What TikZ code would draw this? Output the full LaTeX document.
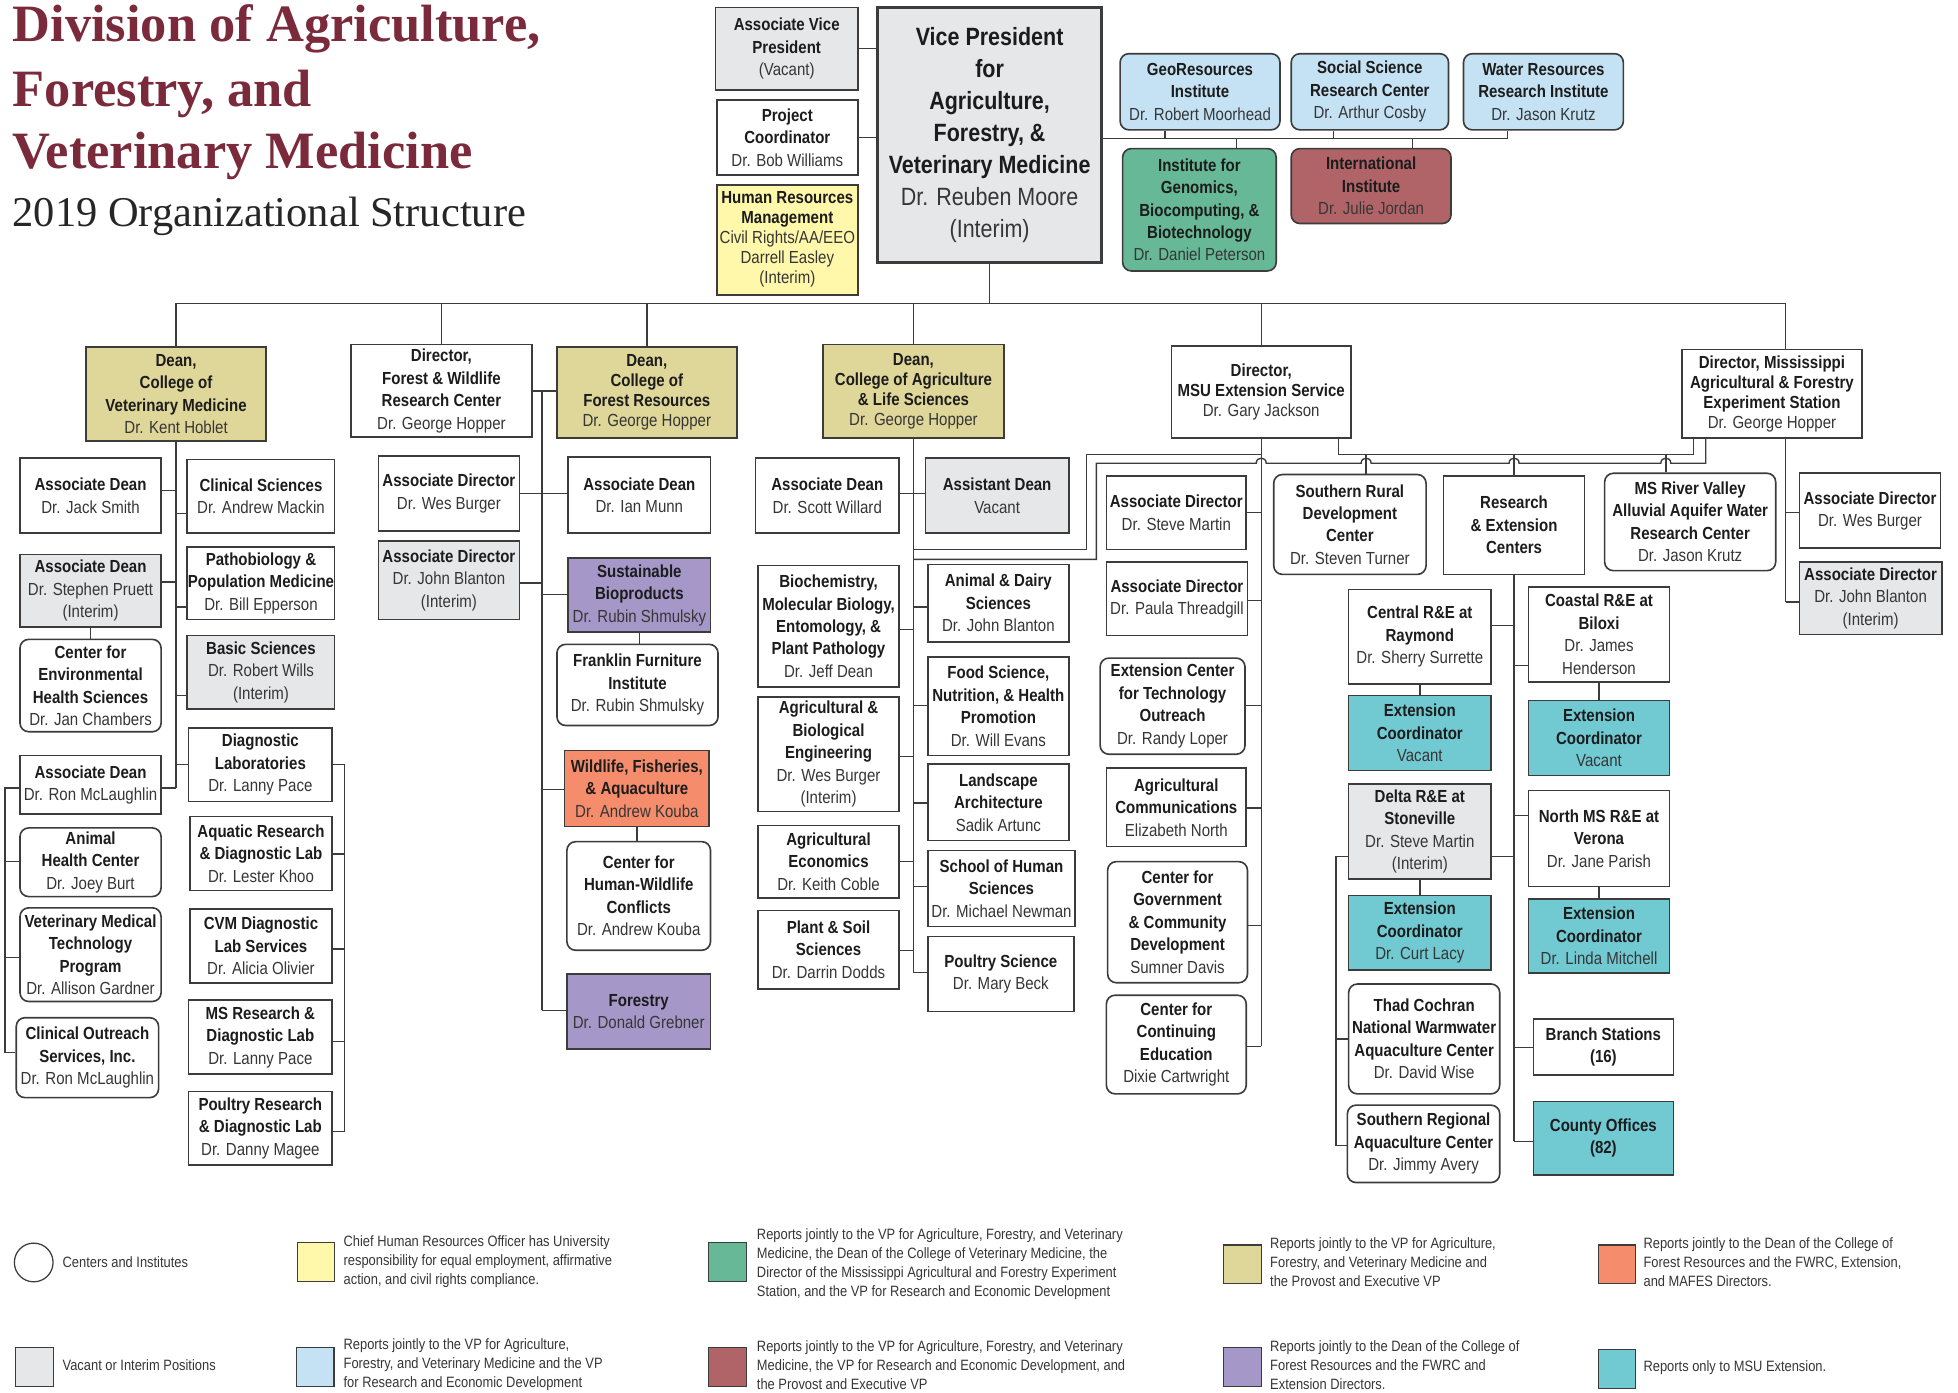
\documentclass[tikz,border=0pt]{standalone}
\usepackage{fontspec}
\setmainfont{Liberation Sans}[FakeStretch=0.86]
\newfontfamily\serifT{Liberation Serif}
\definecolor{cline}{HTML}{3C3C3C}
\definecolor{cname}{HTML}{363636}
\definecolor{chead}{HTML}{1C1C1C}
\definecolor{cgray}{HTML}{E6E7E8}
\definecolor{cyellow}{HTML}{FFF7AA}
\definecolor{cblue}{HTML}{C4E2F4}
\definecolor{cgreen}{HTML}{66B896}
\definecolor{cred}{HTML}{B06468}
\definecolor{colive}{HTML}{DFD79A}
\definecolor{csalmon}{HTML}{F58C6C}
\definecolor{cpurple}{HTML}{A598C8}
\definecolor{cteal}{HTML}{71C9D2}
\definecolor{ctitle}{HTML}{7A2A3B}
\newcommand\hb[1]{\textbf{\color{chead}#1}}
\newcommand\bx[7]{\node[#1, minimum width={#4-#2}, minimum height={#5-#3}] (#6) at ({(#2+#4)/2},{(#3+#5)/2}) {#7};}
\tikzset{
 bx/.style={draw=cline, line width=1.3pt, fill=white, inner sep=0pt, align=center, text=cname, font=\fontsize{14}{18}\selectfont},
 rbx/.style={bx, rounded corners=7pt},
 ls16/.style={font=\fontsize{14}{16}\selectfont},
 ln/.style={draw=cline, line width=1.1pt},
 fgray/.style={fill=cgray}, fyellow/.style={fill=cyellow}, fblue/.style={fill=cblue},
 fgreen/.style={fill=cgreen}, fred/.style={fill=cred}, folive/.style={fill=colive},
 fsalmon/.style={fill=csalmon}, fpurple/.style={fill=cpurple}, fteal/.style={fill=cteal},
 lsq/.style={draw=cline, line width=0.9pt, minimum width=30, minimum height=31, inner sep=0pt},
 lgt/.style={anchor=west, align=left, inner sep=0pt, text=cname, font=\fontsize{12}{15.2}\selectfont},
 ttl/.style={anchor=base west, inner sep=0pt, text=ctitle, font=\serifT\bfseries\fontsize{42}{50}\selectfont}
}
\begin{document}
\begin{tikzpicture}[x=1pt,y=-1pt]
\fill[white] (0,0) rectangle (1568,1115);
\useasboundingbox (0,0) rectangle (1568,1115);

% title
\node[ttl] (t1) at (10,33.4) {Division of Agriculture,};
\node[ttl] (t2) at (10,84.9) {Forestry, and};
\node[ttl] (t3) at (10,134.8) {Veterinary Medicine};
\node[anchor=base west, inner sep=0pt, text=black!85, font=\serifT\fontsize{34}{40}\selectfont] (t4) at (10,181.5) {2019 Organizational Structure};

% top
\bx{bx,fgray}{573}{6}{687}{72}{avp}{\hb{Associate Vice}\\\hb{President}\\(Vacant)}
\bx{bx}{574}{80}{687}{140}{pc}{\hb{Project}\\\hb{Coordinator}\\Dr. Bob Williams}
\bx{bx,fyellow,ls16}{574}{148}{687}{236}{hr}{\hb{Human Resources}\\\hb{Management}\\Civil Rights/AA/EEO\\Darrell Easley\\(Interim)}
\bx{bx,fgray,line width=2.4pt,font=\fontsize{20}{25.7}\selectfont}{703}{6}{882}{210}{vp}{\hb{Vice President}\\\hb{for}\\\hb{Agriculture,}\\\hb{Forestry, \&}\\\hb{Veterinary Medicine}\\Dr. Reuben Moore\\(Interim)}
\bx{rbx,fblue}{897}{43}{1025}{104}{geo}{\hb{GeoResources}\\\hb{Institute}\\Dr. Robert Moorhead}
\bx{rbx,fblue}{1034}{43}{1160}{104}{ssrc}{\hb{Social Science}\\\hb{Research Center}\\Dr. Arthur Cosby}
\bx{rbx,fblue}{1172}{43}{1300}{104}{wri}{\hb{Water Resources}\\\hb{Research Institute}\\Dr. Jason Krutz}
\bx{rbx,fgreen}{899}{119}{1022}{217}{igb}{\hb{Institute for}\\\hb{Genomics,}\\\hb{Biocomputing, \&}\\\hb{Biotechnology}\\Dr. Daniel Peterson}
\bx{rbx,fred}{1034}{119}{1162}{179}{intl}{\hb{International}\\\hb{Institute}\\Dr. Julie Jordan}

% row 2
\bx{bx,folive}{69}{278}{213}{353}{vetd}{\hb{Dean,}\\\hb{College of}\\\hb{Veterinary Medicine}\\Dr. Kent Hoblet}
\bx{bx}{281}{276}{426}{350}{fwrc}{\hb{Director,}\\\hb{Forest \& Wildlife}\\\hb{Research Center}\\Dr. George Hopper}
\bx{bx,folive,ls16}{446}{278}{590}{351}{cfr}{\hb{Dean,}\\\hb{College of}\\\hb{Forest Resources}\\Dr. George Hopper}
\bx{bx,folive,ls16}{659}{276}{804}{351}{cals}{\hb{Dean,}\\\hb{College of Agriculture}\\\hb{\& Life Sciences}\\Dr. George Hopper}
\bx{bx,ls16}{938}{277}{1082}{351}{ext}{\hb{Director,}\\\hb{MSU Extension Service}\\Dr. Gary Jackson}
\bx{bx,ls16}{1347}{280}{1491}{351}{mafes}{\hb{Director, Mississippi}\\\hb{Agricultural \& Forestry}\\\hb{Experiment Station}\\Dr. George Hopper}

% vet column
\bx{bx}{16}{367}{129}{427}{js}{\hb{Associate Dean}\\Dr. Jack Smith}
\bx{bx,fgray}{16}{444}{129}{502}{sp}{\hb{Associate Dean}\\Dr. Stephen Pruett\\(Interim)}
\bx{rbx}{16}{512}{129}{586}{ceh}{\hb{Center for}\\\hb{Environmental}\\\hb{Health Sciences}\\Dr. Jan Chambers}
\bx{bx}{16}{605}{129}{652}{rm}{\hb{Associate Dean}\\Dr. Ron McLaughlin}
\bx{rbx}{16}{663}{129}{718}{ahc}{\hb{Animal}\\\hb{Health Center}\\Dr. Joey Burt}
\bx{rbx}{16}{727}{129}{802}{vmt}{\hb{Veterinary Medical}\\\hb{Technology}\\\hb{Program}\\Dr. Allison Gardner}
\bx{rbx}{13}{815}{127}{879}{cos}{\hb{Clinical Outreach}\\\hb{Services, Inc.}\\Dr. Ron McLaughlin}
\bx{bx}{150}{368}{268}{427}{cs}{\hb{Clinical Sciences}\\Dr. Andrew Mackin}
\bx{bx}{150}{438}{268}{496}{ppm}{\hb{Pathobiology \&}\\\hb{Population Medicine}\\Dr. Bill Epperson}
\bx{bx,fgray}{150}{509}{268}{568}{bs}{\hb{Basic Sciences}\\Dr. Robert Wills\\(Interim)}
\bx{bx}{151}{583}{266}{642}{dl}{\hb{Diagnostic}\\\hb{Laboratories}\\Dr. Lanny Pace}
\bx{bx}{152}{654}{266}{713}{ardl}{\hb{Aquatic Research}\\\hb{\& Diagnostic Lab}\\Dr. Lester Khoo}
\bx{bx}{152}{728}{266}{787}{cvm}{\hb{CVM Diagnostic}\\\hb{Lab Services}\\Dr. Alicia Olivier}
\bx{bx}{151}{801}{266}{860}{msr}{\hb{MS Research \&}\\\hb{Diagnostic Lab}\\Dr. Lanny Pace}
\bx{bx}{151}{874}{266}{933}{prdl}{\hb{Poultry Research}\\\hb{\& Diagnostic Lab}\\Dr. Danny Magee}

% forest columns
\bx{bx}{303}{365}{416}{425}{wb}{\hb{Associate Director}\\Dr. Wes Burger}
\bx{bx,fgray}{303}{433}{416}{496}{jb}{\hb{Associate Director}\\Dr. John Blanton\\(Interim)}
\bx{bx}{455}{366}{569}{427}{im}{\hb{Associate Dean}\\Dr. Ian Munn}
\bx{bx,fpurple}{455}{447}{569}{506}{sbp}{\hb{Sustainable}\\\hb{Bioproducts}\\Dr. Rubin Shmulsky}
\bx{rbx}{446}{516}{575}{581}{ffi}{\hb{Franklin Furniture}\\\hb{Institute}\\Dr. Rubin Shmulsky}
\bx{bx,fsalmon}{452}{601}{568}{662}{wfa}{\hb{Wildlife, Fisheries,}\\\hb{\& Aquaculture}\\Dr. Andrew Kouba}
\bx{rbx}{454}{674}{569}{761}{chw}{\hb{Center for}\\\hb{Human-Wildlife}\\\hb{Conflicts}\\Dr. Andrew Kouba}
\bx{bx,fpurple}{454}{780}{569}{840}{fst}{\hb{Forestry}\\Dr. Donald Grebner}

% CALS columns
\bx{bx}{605}{367}{720}{427}{sw}{\hb{Associate Dean}\\Dr. Scott Willard}
\bx{bx,fgray}{741}{367}{856}{427}{ad}{\hb{Assistant Dean}\\Vacant}
\bx{bx}{607}{453}{720}{550}{bmb}{\hb{Biochemistry,}\\\hb{Molecular Biology,}\\\hb{Entomology, \&}\\\hb{Plant Pathology}\\Dr. Jeff Dean}
\bx{bx}{607}{558}{720}{650}{abe}{\hb{Agricultural \&}\\\hb{Biological}\\\hb{Engineering}\\Dr. Wes Burger\\(Interim)}
\bx{bx}{607}{661}{720}{719}{aec}{\hb{Agricultural}\\\hb{Economics}\\Dr. Keith Coble}
\bx{bx}{607}{729}{720}{792}{pss}{\hb{Plant \& Soil}\\\hb{Sciences}\\Dr. Darrin Dodds}
\bx{bx}{743}{452}{856}{514}{ads}{\hb{Animal \& Dairy}\\\hb{Sciences}\\Dr. John Blanton}
\bx{bx}{743}{526}{856}{605}{fsn}{\hb{Food Science,}\\\hb{Nutrition, \& Health}\\\hb{Promotion}\\Dr. Will Evans}
\bx{bx}{743}{612}{856}{673}{la}{\hb{Landscape}\\\hb{Architecture}\\Sadik Artunc}
\bx{bx}{743}{681}{861}{742}{shs}{\hb{School of Human}\\\hb{Sciences}\\Dr. Michael Newman}
\bx{bx}{743}{750}{860}{810}{ps}{\hb{Poultry Science}\\Dr. Mary Beck}

% extension column
\bx{bx}{886}{381}{998}{440}{esm}{\hb{Associate Director}\\Dr. Steve Martin}
\bx{bx}{886}{450}{999}{509}{ept}{\hb{Associate Director}\\Dr. Paula Threadgill}
\bx{rbx}{881}{527}{997}{604}{ecto}{\hb{Extension Center}\\\hb{for Technology}\\\hb{Outreach}\\Dr. Randy Loper}
\bx{bx}{886}{615}{998}{678}{acom}{\hb{Agricultural}\\\hb{Communications}\\Elizabeth North}
\bx{rbx}{887}{690}{999}{787}{cgcd}{\hb{Center for}\\\hb{Government}\\\hb{\& Community}\\\hb{Development}\\Sumner Davis}
\bx{rbx}{886}{797}{998}{876}{cce}{\hb{Center for}\\\hb{Continuing}\\\hb{Education}\\Dixie Cartwright}

\bx{rbx}{1020}{380}{1142}{460}{srdc}{\hb{Southern Rural}\\\hb{Development}\\\hb{Center}\\Dr. Steven Turner}
\bx{bx}{1156}{381}{1269}{460}{rec}{\hb{Research}\\\hb{\& Extension}\\\hb{Centers}}
\bx{rbx}{1285}{379}{1422}{457}{msrv}{\hb{MS River Valley}\\\hb{Alluvial Aquifer Water}\\\hb{Research Center}\\Dr. Jason Krutz}

\bx{bx}{1080}{472}{1194}{548}{cre}{\hb{Central R\&E at}\\\hb{Raymond}\\Dr. Sherry Surrette}
\bx{bx,fteal}{1080}{557}{1194}{617}{ec1}{\hb{Extension}\\\hb{Coordinator}\\Vacant}
\bx{bx,fgray}{1080}{628}{1194}{704}{dre}{\hb{Delta R\&E at}\\\hb{Stoneville}\\Dr. Steve Martin\\(Interim)}
\bx{bx,fteal}{1080}{717}{1194}{777}{ec2}{\hb{Extension}\\\hb{Coordinator}\\Dr. Curt Lacy}
\bx{rbx}{1080}{788}{1201}{876}{tc}{\hb{Thad Cochran}\\\hb{National Warmwater}\\\hb{Aquaculture Center}\\Dr. David Wise}
\bx{rbx}{1079}{885}{1201}{947}{sra}{\hb{Southern Regional}\\\hb{Aquaculture Center}\\Dr. Jimmy Avery}
\bx{bx}{1224}{470}{1337}{546}{crb}{\hb{Coastal R\&E at}\\\hb{Biloxi}\\Dr. James\\Henderson}
\bx{bx,fteal}{1224}{561}{1337}{621}{ec3}{\hb{Extension}\\\hb{Coordinator}\\Vacant}
\bx{bx}{1224}{633}{1337}{710}{nms}{\hb{North MS R\&E at}\\\hb{Verona}\\Dr. Jane Parish}
\bx{bx,fteal}{1224}{720}{1337}{779}{ec4}{\hb{Extension}\\\hb{Coordinator}\\Dr. Linda Mitchell}
\bx{bx}{1228}{816}{1340}{861}{brs}{\hb{Branch Stations}\\\hb{(16)}}
\bx{bx,fteal}{1228}{882}{1340}{941}{cty}{\hb{County Offices}\\\hb{(82)}}

% MAFES column
\bx{bx}{1441}{379}{1554}{439}{mwb}{\hb{Associate Director}\\Dr. Wes Burger}
\bx{bx,fgray}{1441}{450}{1555}{508}{mjb}{\hb{Associate Director}\\Dr. John Blanton\\(Interim)}

% ---------- connectors ----------
\draw[ln] (avp.east) -- (avp.east -| vp.west);
\draw[ln] (pc.east) -- (pc.east -| vp.west);
\draw[ln] (vp.east |- 0,111) -- (1207,111) -- (wri.south -| 1207,0);
\draw[ln] (geo.south -| 933,0) -- (933,111);
\draw[ln] (ssrc.south -| 1068,0) -- (1068,111);
\draw[ln] (igb.north -| 990,0) -- (990,111);
\draw[ln] (intl.north -| 1131,0) -- (1131,111);

% bus
\draw[ln] (vetd.north |- 0,243) -- (1430,243);
\draw[ln] (vp.south) -- (vp.south |- 0,243);
\draw[ln] (vetd.north) -- (vetd.north |- 0,243);
\draw[ln] (fwrc.north) -- (fwrc.north |- 0,243);
\draw[ln] (cfr.north) -- (cfr.north |- 0,243);
\draw[ln] (cals.north) -- (cals.north |- 0,243);
\draw[ln] (ext.north) -- (ext.north |- 0,243);
\draw[ln] (mafes.north -| 1430,0) -- (1430,243);

% vet
\draw[ln] (vetd.south) -- (vetd.south |- 0,631);
\draw[ln] (js.east |- 0,393) -- (vetd.south |- 0,393);
\draw[ln] (sp.east |- 0,466) -- (vetd.south |- 0,466);
\draw[ln] (rm.east |- 0,631) -- (vetd.south |- 0,631);
\draw[ln] (cs.west |- 0,411) -- (vetd.south |- 0,411);
\draw[ln] (ppm.west |- 0,486) -- (vetd.south |- 0,486);
\draw[ln] (bs.west |- 0,557) -- (vetd.south |- 0,557);
\draw[ln] (dl.west |- 0,612) -- (vetd.south |- 0,612);
\draw[ln] (sp.south) -- (ceh.north);
\draw[ln] (rm.west |- 0,631) -- (4,631) -- (4,843) -- (cos.west |- 0,843);
\draw[ln] (4,690) -- (ahc.west |- 0,690);
\draw[ln] (4,767) -- (vmt.west |- 0,767);
\draw[ln] (dl.east |- 0,612) -- (276,612) -- (276,906) -- (prdl.east |- 0,906);
\draw[ln] (ardl.east |- 0,684) -- (276,684);
\draw[ln] (cvm.east |- 0,760) -- (276,760);
\draw[ln] (msr.east |- 0,834) -- (276,834);

% forest
\draw[ln] (fwrc.east |- 0,313) -- (cfr.west |- 0,313);
\draw[ln] (434,313) -- (434,809);
\draw[ln] (wb.east |- 0,395) -- (im.west |- 0,395);
\draw[ln] (jb.east |- 0,467) -- (434,467);
\draw[ln] (434,476) -- (sbp.west |- 0,476);
\draw[ln] (sbp.south) -- (sbp.south |- ffi.north);
\draw[ln] (434,632) -- (wfa.west |- 0,632);
\draw[ln] (wfa.south) -- (wfa.south |- chw.north);
\draw[ln] (434,809) -- (fst.west |- 0,809);

% CALS
\draw[ln] (cals.south) -- (cals.south |- 0,779);
\draw[ln] (sw.east |- 0,395) -- (ad.west |- 0,395);
\draw[ln] (bmb.east |- 0,504) -- (cals.south |- 0,504);
\draw[ln] (abe.east |- 0,606) -- (cals.south |- 0,606);
\draw[ln] (aec.east |- 0,690) -- (cals.south |- 0,690);
\draw[ln] (pss.east |- 0,761) -- (cals.south |- 0,761);
\draw[ln] (ads.west |- 0,486) -- (cals.south |- 0,486);
\draw[ln] (fsn.west |- 0,565) -- (cals.south |- 0,565);
\draw[ln] (la.west |- 0,643) -- (cals.south |- 0,643);
\draw[ln] (shs.west |- 0,710) -- (cals.south |- 0,710);
\draw[ln] (ps.west |- 0,779) -- (cals.south |- 0,779);

% joint lines
\draw[ln] (cals.south |- 0,440) -- (870,440) -- (870,364) -- (ext.south |- 0,364);
\draw[ln] (cals.south |- 0,448) -- (878,448) -- (878,371) -- (1006,371)
  .. controls (1006,365.5) and (1014,365.5) .. (1014,371) -- (1090,371)
  .. controls (1090,365.5) and (1098,365.5) .. (1098,371) -- (1208.5,371)
  .. controls (1208.5,365.5) and (1216.5,365.5) .. (1216.5,371) -- (1330,371)
  .. controls (1330,365.5) and (1338,365.5) .. (1338,371) -- (1366,371) -- (mafes.south -| 1366,0);
\draw[ln] (ext.south -| 1072,0) -- (1072,364) -- (1356,364) -- (mafes.south -| 1356,0);
\draw[ln] (1094,364) -- (srdc.north -| 1094,0);
\draw[ln] (rec.north |- 0,364) -- (rec.north);
\draw[ln] (1334,364) -- (msrv.north -| 1334,0);

% extension
\draw[ln] (ext.south) -- (ext.south |- 0,838);
\draw[ln] (esm.east |- 0,410.5) -- (ext.south |- 0,410.5);
\draw[ln] (ept.east |- 0,481) -- (ext.south |- 0,481);
\draw[ln] (ecto.east |- 0,565) -- (ext.south |- 0,565);
\draw[ln] (acom.east |- 0,647) -- (ext.south |- 0,647);
\draw[ln] (cgcd.east |- 0,741) -- (ext.south |- 0,741);
\draw[ln] (cce.east |- 0,838) -- (ext.south |- 0,838);

% R&E
\draw[ln] (rec.south) -- (rec.south |- 0,914);
\draw[ln] (cre.east |- 0,501) -- (rec.south |- 0,501);
\draw[ln] (dre.east |- 0,686) -- (rec.south |- 0,686);
\draw[ln] (crb.west |- 0,533) -- (rec.south |- 0,533);
\draw[ln] (nms.west |- 0,653) -- (rec.south |- 0,653);
\draw[ln] (brs.west |- 0,839) -- (rec.south |- 0,839);
\draw[ln] (cty.west |- 0,914) -- (rec.south |- 0,914);
\draw[ln] (cre.south) -- (cre.south |- ec1.north);
\draw[ln] (dre.south) -- (dre.south |- ec2.north);
\draw[ln] (crb.south) -- (crb.south |- ec3.north);
\draw[ln] (nms.south) -- (nms.south |- ec4.north);
\draw[ln] (dre.west |- 0,686) -- (1070,686) -- (1070,917.5) -- (sra.west |- 0,917.5);
\draw[ln] (1070,832) -- (tc.west |- 0,832);

% MAFES
\draw[ln] (mafes.south -| 1430,0) -- (1430,482);
\draw[ln] (mwb.west |- 0,410.5) -- (1430,410.5);
\draw[ln] (mjb.west |- 0,482) -- (1430,482);

% ---------- legend ----------
\node[circle, draw=cline, line width=1pt, minimum size=31, inner sep=0pt] (lc) at (27,1011) {};
\node[lgt] (lct) at (50,1011) {Centers and Institutes};
\node[lsq, fill=cyellow] (ly) at (253,1010.5) {};
\node[lgt] (lyt) at (275,1010.5) {Chief Human Resources Officer has University\\responsibility for equal employment, affirmative\\action, and civil rights compliance.};
\node[lsq, fill=cgreen] (lgr) at (582.5,1010.5) {};
\node[lgt] (lgrt) at (606,1012) {Reports jointly to the VP for Agriculture, Forestry, and Veterinary\\Medicine, the Dean of the College of Veterinary Medicine, the\\Director of the Mississippi Agricultural and Forestry Experiment\\Station, and the VP for Research and Economic Development};
\node[lsq, fill=colive] (lo) at (995,1012.5) {};
\node[lgt] (lot) at (1017,1011) {Reports jointly to the VP for Agriculture,\\Forestry, and Veterinary Medicine and\\the Provost and Executive VP};
\node[lsq, fill=csalmon] (ls) at (1295,1012.5) {};
\node[lgt] (lst) at (1316,1011) {Reports jointly to the Dean of the College of\\Forest Resources and the FWRC, Extension,\\and MAFES Directors.};

\node[lsq, fill=cgray] (lg) at (27.5,1094.5) {};
\node[lgt] (lgt1) at (50,1093) {Vacant or Interim Positions};
\node[lsq, fill=cblue] (lb) at (252.5,1094.5) {};
\node[lgt] (lbt) at (275,1093) {Reports jointly to the VP for Agriculture,\\Forestry, and Veterinary Medicine and the VP\\for Research and Economic Development};
\node[lsq, fill=cred] (lr) at (582.5,1094.5) {};
\node[lgt] (lrt) at (606,1093) {Reports jointly to the VP for Agriculture, Forestry, and Veterinary\\Medicine, the VP for Research and Economic Development, and\\the Provost and Executive VP};
\node[lsq, fill=cpurple] (lp) at (995,1094.5) {};
\node[lgt] (lpt) at (1017,1093) {Reports jointly to the Dean of the College of\\Forest Resources and the FWRC and\\Extension Directors.};
\node[lsq, fill=cteal] (lt) at (1295,1096.5) {};
\node[lgt] (ltt) at (1316,1095) {Reports only to MSU Extension.};
\end{tikzpicture}
\end{document}
